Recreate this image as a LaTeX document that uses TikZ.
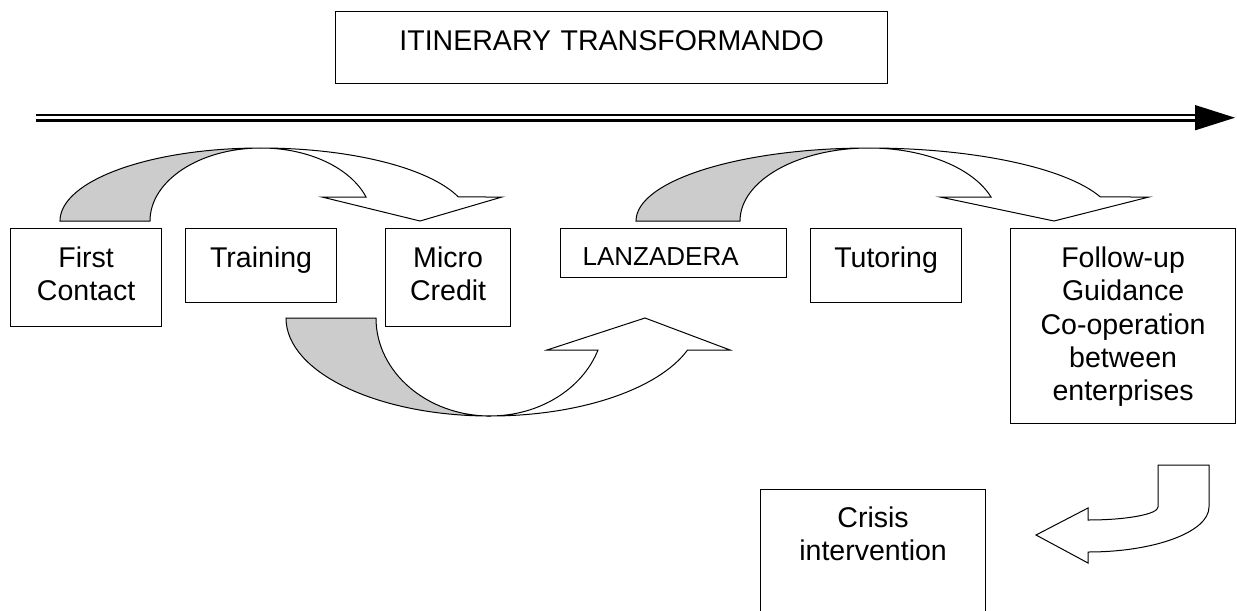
\documentclass[tikz,border=0pt]{standalone}
\usepackage{fontspec}
\setmainfont{Liberation Sans}
\newcommand{\stagefont}{\fontsize{21.4pt}{25pt}\selectfont}
\tikzset{
  stagebox/.style={draw, line width=0.9pt, inner sep=0pt, align=center, anchor=north west, font=\stagefont, text height=29.25pt},
  backband/.style={draw, line width=0.75pt, fill=gray!40},
  frontband/.style={draw, line width=0.75pt, fill=white}
}

\begin{document}
\begin{tikzpicture}[x=0.75pt,y=0.75pt]
  \useasboundingbox (0,0) rectangle (1237,-610);
  \clip (0,0) rectangle (1237,-610);

  \node[stagebox, text width=414pt, text depth=24.75pt] (title) at (335,-11) {ITINERARY TRANSFORMANDO};

  % time line
  \coordinate (tstart) at (36,-117.7);
  \coordinate (tend) at (1195,-117.7);
  \draw[double, double distance=2.2pt, line width=1.8pt] (tstart) -- (tend);
  \fill (1195,-105) -- (1235,-117.7) -- (1195,-130.4) -- cycle;

  \node[stagebox, text width=113.25pt, text depth=44.25pt] (first) at (10,-228) {First\\Contact};
  \node[stagebox, text width=113.25pt, text depth=26.25pt] (training) at (185,-228) {Training};
  \node[stagebox, text width=93.75pt, text depth=44.25pt] (micro) at (385,-228) {Micro\\Credit};
  \node[stagebox, text width=136.5pt, inner xsep=16.5pt, align=left, font=\fontsize{19.5pt}{23pt}\selectfont,
        text height=27.75pt, text depth=9pt] (lanzadera) at (560,-228) {LANZADERA};
  \node[stagebox, text width=113.25pt, text depth=26.25pt] (tutoring) at (810,-228) {Tutoring};
  \node[stagebox, text width=168.75pt, text depth=117pt] (followup) at (1010,-228) {Follow-up\\Guidance\\Co-operation\\between\\enterprises};
  \node[stagebox, text width=168.75pt, text height=28.5pt, text depth=102pt] (crisis) at (760,-489) {Crisis\\intervention};

  % curved arrows
  \filldraw[backband] (60,-221) arc[start angle=180, end angle=90, x radius=201, y radius=73]
    arc[start angle=90, end angle=180, x radius=111, y radius=73] -- cycle;
  \filldraw[frontband] (261,-148) arc[start angle=90, end angle=19.2, x radius=209, y radius=73]
    -- (502,-197) -- (420,-221) -- (322,-197) -- (366,-197)
    arc[start angle=19.2, end angle=90, x radius=111, y radius=73] -- cycle;

  \filldraw[backband] (636,-221) arc[start angle=180, end angle=90, x radius=233, y radius=73]
    arc[start angle=90, end angle=180, x radius=129, y radius=73] -- cycle;
  \filldraw[frontband] (869,-148) arc[start angle=90, end angle=19.2, x radius=245, y radius=73]
    -- (1149,-197) -- (1054,-221) -- (940,-197) -- (991,-197)
    arc[start angle=19.2, end angle=90, x radius=129, y radius=73] -- cycle;

  \filldraw[backband] (286,-318) arc[start angle=180, end angle=270, x radius=204, y radius=98]
    arc[start angle=270, end angle=180, x radius=114, y radius=98] -- cycle;
  \filldraw[frontband] (490,-416) arc[start angle=270, end angle=340.9, x radius=209, y radius=98]
    -- (730,-350) -- (645,-318) -- (547,-350) -- (598,-350)
    arc[start angle=340.9, end angle=270, x radius=114, y radius=98] -- cycle;

  \filldraw[frontband] (1158,-465) -- (1209,-465) -- (1209,-507)
    arc[start angle=0, end angle=-90, x radius=121, y radius=45]
    -- (1088,-563) -- (1036,-535) -- (1088,-508) -- (1088,-520)
    arc[start angle=-90, end angle=0, x radius=70, y radius=13] -- cycle;
\end{tikzpicture}
\end{document}
